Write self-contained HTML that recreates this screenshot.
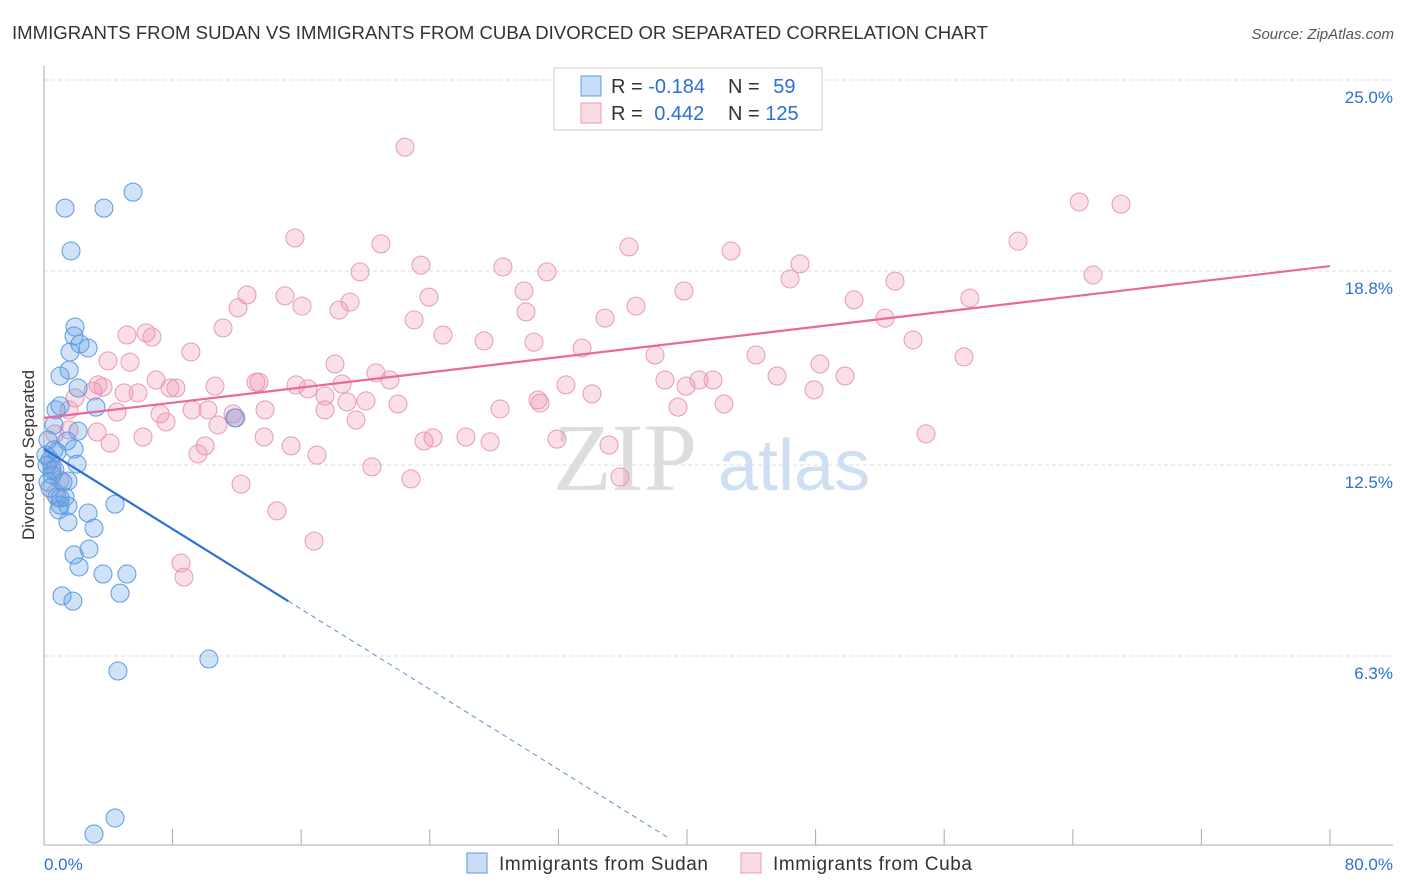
<!DOCTYPE html>
<html><head><meta charset="utf-8"><style>
body{margin:0;background:#fff;font-family:"Liberation Sans",sans-serif}
svg{display:block}
</style></head><body>
<svg id="chart" width="1406" height="892">
<text x="12" y="39" font-size="18" fill="#333" textLength="976" lengthAdjust="spacingAndGlyphs">IMMIGRANTS FROM SUDAN VS IMMIGRANTS FROM CUBA DIVORCED OR SEPARATED CORRELATION CHART</text>
<text x="1394" y="39" font-size="15" fill="#555" text-anchor="end" font-style="italic">Source: ZipAtlas.com</text>
<g>
<text x="553" y="490" font-size="96" font-family="Liberation Serif,serif" fill="#ddd">ZIP</text>
<text x="718" y="490" font-size="72" fill="#cfdff3">atlas</text>
</g>
<g id="grid"></g>
<g id="axes"></g>
<g id="pts"></g>
<g id="trend"></g>
<text x="34" y="455" font-size="17" fill="#333" text-anchor="middle" transform="rotate(-90 34 455)">Divorced or Separated</text>
<g>
<rect x="554" y="68" width="268" height="62" fill="#fff" stroke="#ccc"/>
<rect x="581" y="76" width="20" height="20" fill="rgba(100,160,230,0.35)" stroke="#5b9be0"/>
<rect x="581" y="103" width="20" height="20" fill="rgba(240,150,180,0.35)" stroke="#e89ab5"/>
<text x="611" y="93" font-size="20" fill="#333">R = <tspan fill="#2c6fd6">-0.184</tspan></text>
<text x="728" y="93" font-size="20" fill="#333">N = <tspan fill="#2c6fd6" dx="8">59</tspan></text>
<text x="611" y="120" font-size="20" fill="#333">R = <tspan fill="#2c6fd6" dx="6">0.442</tspan></text>
<text x="728" y="120" font-size="20" fill="#333">N = <tspan fill="#2c6fd6">125</tspan></text>
</g>
<g>
<rect x="467" y="853" width="20" height="20" fill="rgba(100,160,230,0.35)" stroke="#5b9be0"/>
<text x="499" y="870" font-size="19" fill="#333" textLength="209">Immigrants from Sudan</text>
<rect x="741" y="853" width="20" height="20" fill="rgba(240,150,180,0.35)" stroke="#e89ab5"/>
<text x="773" y="870" font-size="19" fill="#333" textLength="199">Immigrants from Cuba</text>
</g>
</svg>
<script>
const yTicks=[25.0,18.8,12.5,6.3];
const yTickLabels=["25.0%","18.8%","12.5%","6.3%"];
const xTickLabels=["0.0%","80.0%"];
const sudanX=[5.54,1.31,3.73,1.68,1.93,1.87,1.62,2.24,2.74,1.56,1.0,2.12,3.23,0.75,1.0,11.88,0.62,2.12,1.43,1.87,0.81,0.25,0.37,0.5,2.05,0.68,1.18,1.49,0.25,0.81,1.31,1.0,1.49,4.42,2.74,0.93,1.49,3.11,1.87,2.8,2.18,3.67,5.16,1.12,1.8,4.73,4.6,10.26,4.42,3.11,0.37,0.12,0.19,0.5,1.0,0.62];
const sudanY=[21.36,20.84,20.84,19.45,16.98,16.69,16.17,16.43,16.3,15.58,15.39,15.0,14.38,14.29,14.42,14.03,13.8,13.6,13.28,13.02,12.92,13.31,12.66,12.34,12.53,12.34,11.95,11.98,11.95,11.46,11.46,11.2,11.17,11.23,10.94,11.04,10.65,10.45,9.58,9.77,9.19,8.96,8.96,8.25,8.08,8.34,5.81,6.2,1.04,0.52,11.75,12.82,12.5,12.18,11.43,12.99];
const cubaX=[22.46,64.4,67.0,15.61,60.59,20.96,36.39,42.74,23.45,28.55,19.66,31.29,47.03,65.26,46.41,52.94,12.63,14.99,29.86,39.81,23.95,19.04,16.05,57.6,50.39,18.35,12.07,36.83,29.98,34.9,23.02,52.32,11.14,5.16,6.35,6.72,24.82,27.37,30.48,54.06,33.47,9.14,38.01,44.29,57.23,18.1,3.98,5.35,48.27,20.65,6.97,21.52,13.19,13.37,45.6,49.83,10.64,3.36,3.67,38.63,40.75,41.62,15.68,7.84,8.21,32.47,39.94,18.54,16.42,4.98,3.05,5.85,34.09,47.9,1.93,20.03,22.02,17.48,30.73,30.86,18.85,4.54,1.56,7.22,9.21,10.2,11.76,13.75,28.37,17.48,39.44,42.3,10.82,7.59,11.94,19.41,1.56,3.3,4.11,6.16,13.69,15.37,23.64,24.2,26.25,27.75,31.91,35.15,54.87,10.02,9.58,16.98,20.4,22.83,35.83,12.26,14.49,16.8,8.52,8.71,0.68,0.5,0.68,1.0];
const cubaY=[22.82,21.04,20.97,19.87,19.77,19.68,19.58,19.45,18.99,18.93,18.77,18.77,19.03,18.67,18.54,18.47,18.02,17.99,18.15,18.15,17.95,17.79,17.66,17.92,17.86,17.53,17.6,17.66,17.47,17.27,17.21,17.27,16.95,16.72,16.79,16.66,16.72,16.53,16.49,16.56,16.3,16.17,16.07,16.07,16.01,15.78,15.88,15.84,15.78,15.49,15.26,15.26,15.19,15.19,15.39,15.39,15.06,15.1,15.03,15.26,15.26,15.26,15.1,15.0,15.0,15.1,15.06,15.13,14.97,14.84,14.9,14.84,14.81,14.94,14.68,14.58,14.48,14.74,14.61,14.51,14.55,14.22,14.29,14.16,14.29,14.29,14.16,14.29,14.32,14.29,14.38,14.48,13.8,13.9,14.03,13.96,13.64,13.57,13.21,13.41,13.41,13.12,13.28,13.38,13.41,13.25,13.34,13.15,13.51,13.12,12.86,12.82,12.44,12.05,12.11,11.88,11.01,10.03,9.32,8.86,13.51,12.53,11.56,12.01];
const sudanTrend=[13.02,-0.325];
const cubaTrend=[14.03,0.0616];
const NS="http://www.w3.org/2000/svg";
const X=v=>44+v*1286/80, Y=v=>850-v*30.8;
function mk(tag,attrs,parent){const e=document.createElementNS(NS,tag);for(const k in attrs)e.setAttribute(k,attrs[k]);parent.appendChild(e);return e;}
const grid=document.getElementById('grid'),axes=document.getElementById('axes'),pts=document.getElementById('pts'),tr=document.getElementById('trend');
yTicks.forEach((t,i)=>{
 const l=mk('line',{x1:44,x2:1393,y1:Y(t),y2:Y(t),stroke:'#ddd','stroke-dasharray':'4 3'},grid);
 
 
 const tx=mk('text',{x:1393,y:Y(t)+23,'font-size':17,fill:'#2c6fd6','text-anchor':'end'},grid);
 tx.textContent=yTickLabels[i];
 
 
});
const ya=mk('line',{x1:44,x2:44,y1:66,y2:845,stroke:'#aaa'},axes);


const xa=mk('line',{x1:44,x2:1393,y1:845,y2:845,stroke:'#aaa'},axes);


for(let i=0;i<=10;i++){const t=mk('line',{x1:X(i*8),x2:X(i*8),y1:829,y2:845,stroke:'#aaa'},axes);
 
 }
[[0,'start',X(0)],[80,'end',1393]].forEach((d,i)=>{const t=mk('text',{x:d[2],y:870,'font-size':17,fill:'#2c6fd6','text-anchor':d[1]},axes);t.textContent=xTickLabels[i];
 
 });
cubaX.forEach((x,i)=>{const c=mk('circle',{cx:X(x),cy:Y(cubaY[i]),r:9,fill:'rgba(240,150,180,0.3)',stroke:'#e89ab5','stroke-width':1},pts);
 
 });
sudanX.forEach((x,i)=>{const c=mk('circle',{cx:X(x),cy:Y(sudanY[i]),r:9,fill:'rgba(100,160,230,0.3)',stroke:'#5b9be0','stroke-width':1},pts);
 
 });
const f=(t,x)=>t[0]+t[1]*x;
const l1=mk('line',{x1:X(0),y1:Y(f(cubaTrend,0)),x2:X(80),y2:Y(f(cubaTrend,80)),stroke:'#e8699a','stroke-width':2.2},tr);


const l2=mk('line',{x1:X(0),y1:Y(f(sudanTrend,0)),x2:X(15.2),y2:Y(f(sudanTrend,15.2)),stroke:'#2c6fd6','stroke-width':2.2},tr);


const l3=mk('line',{x1:X(15.2),y1:Y(f(sudanTrend,15.2)),x2:X(38.8),y2:Y(Math.max(0.15,f(sudanTrend,38.8))),stroke:'#5b8fd6','stroke-width':1,'stroke-dasharray':'5 4'},tr);


</script>
</body></html>
